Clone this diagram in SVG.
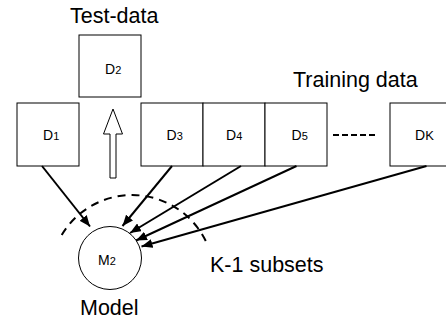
<svg xmlns="http://www.w3.org/2000/svg" width="446" height="320" viewBox="0 0 446 320">
<style>
.box{fill:#fff;stroke:#000;stroke-width:1}
.lbl{font-family:"Liberation Sans",Arial,sans-serif;font-size:21.5px;fill:#000}
.d{font-family:"Liberation Sans",Arial,sans-serif;font-size:14px;fill:#000}
.sub{font-size:11px}
.edge{stroke:#000;stroke-width:2;fill:none;marker-end:url(#ah)}
</style>
<defs>
<marker id="ah" markerUnits="userSpaceOnUse" markerWidth="11" markerHeight="9" refX="11" refY="4.5" orient="auto">
<path d="M0,0 L11,4.5 L0,9 z" fill="#000"/>
</marker>
</defs>
<rect width="446" height="320" fill="#fff"/>
<text class="lbl" x="70" y="23">Test-data</text>
<text class="lbl" x="293" y="87">Training data</text>
<g id="D2"><rect class="box" x="79" y="35" width="62" height="62"/><text class="d" x="105" y="74">D<tspan class="sub">2</tspan></text></g>
<g id="D1"><rect class="box" x="17" y="103" width="62" height="63"/><text class="d" x="43" y="140">D<tspan class="sub">1</tspan></text></g>
<g id="D3"><rect class="box" x="141" y="103" width="62" height="63"/><text class="d" x="166.5" y="140">D<tspan class="sub">3</tspan></text></g>
<g id="D4"><rect class="box" x="203" y="103" width="62" height="63"/><text class="d" x="226" y="140">D<tspan class="sub">4</tspan></text></g>
<g id="D5"><rect class="box" x="265" y="103" width="62" height="63"/><text class="d" x="291.5" y="140">D<tspan class="sub">5</tspan></text></g>
<g id="DK"><rect class="box" x="390" y="103" width="62" height="63"/><text class="d" x="415" y="140">D<tspan style="font-size:13px">K</tspan></text></g>
<g id="M2"><circle cx="110" cy="258" r="31.5" fill="#fff" stroke="#000" stroke-width="1"/><text class="d" x="98" y="265">M<tspan class="sub">2</tspan></text></g>
<text class="lbl" x="80" y="315">Model</text>
<text class="lbl" x="210" y="272">K-1 subsets</text>
<g id="connectors">
<line x1="333" y1="135" x2="378" y2="135" stroke="#000" stroke-width="2" stroke-dasharray="6 3"/>
<polygon points="110,178 110,134 103.5,134 113,109 122.5,134 116,134 116,178" fill="#fff" stroke="#000" stroke-width="1"/>
<line class="edge" x1="42" y1="166" x2="90" y2="226.5"/>
<line class="edge" x1="172" y1="166" x2="122.5" y2="226"/>
<line class="edge" x1="241" y1="166" x2="130" y2="233"/>
<line class="edge" x1="296.5" y1="166" x2="136" y2="240.5"/>
<line class="edge" x1="426.5" y1="166" x2="141.5" y2="246.5"/>
<path d="M61.7 235 A82 82 0 0 1 206.7 243" fill="none" stroke="#000" stroke-width="2" stroke-dasharray="8 6"/>
</g>
</svg>
